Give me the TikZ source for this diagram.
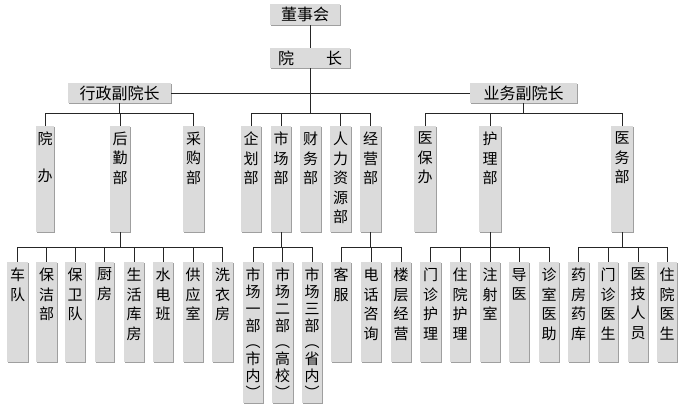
\documentclass[tikz,border=0pt]{standalone}
\usepackage{fontspec}
\setmainfont{Noto Sans CJK SC}
\usetikzlibrary{shadows}
\tikzset{
  bx/.style={fill=gray!28, draw=none, inner sep=0pt, drop shadow={shadow xshift=1.2pt, shadow yshift=-1.2pt, fill=gray!75, opacity=1}},
  tx/.style={inner sep=0pt, font=\fontsize{15}{19.5}\selectfont, align=center, text width=16pt},
  ht/.style={inner sep=0pt, font=\fontsize{16}{18}\selectfont},
  ln/.style={line width=0.9pt, black!85}
}
\newcommand{\bxv}[6]{%
  \node[bx, minimum width={#4-#2}, minimum height={#5-#3}] (#1) at ({(#2+#4)/2},{(#3+#5)/2}) {};
  \node[tx, anchor=north] (#1t) at ([yshift=-6pt]#1.north) {#6};}
\newcommand{\bxh}[6]{%
  \node[bx, minimum width={#4-#2}, minimum height={#5-#3}] (#1) at ({(#2+#4)/2},{(#3+#5)/2}) {};
  \node[ht] (#1t) at (#1) {#6};}
\newcommand{\orgbar}[3]{% from node #1 to node #2 at y #3
  \draw[ln] (#1.north) -- (#1.north |- 0,#3) -- (#2.north |- 0,#3) -- (#2.north);}
\begin{document}
\begin{tikzpicture}[x=1pt,y=-1pt]
\useasboundingbox[fill=white] (0,0) rectangle (683,412);
% top
\bxh{dsh}{270}{4}{340}{25}{董事会}
\bxh{yz}{270}{48}{350}{68}{院\hspace{2em}长}
\bxh{xz}{68}{83}{171}{103}{行政副院长}
\bxh{yw}{470}{83}{577}{103}{业务副院长}
% level 2
\bxv{yb}{36}{126}{54}{232}{院\\[17pt]办}
\bxv{hq}{110}{126}{130}{232}{后\\勤\\部}
\bxv{cg}{183}{126}{204}{232}{采\\购\\部}
\bxv{qh}{241}{126}{261}{232}{企\\划\\部}
\bxv{sc}{271}{126}{291}{232}{市\\场\\部}
\bxv{cw}{300}{126}{321}{232}{财\\务\\部}
\bxv{rl}{330}{126}{351}{232}{人\\力\\资\\源\\部}
\bxv{jy}{360}{126}{381}{232}{经\\营\\部}
\bxv{ybb}{414}{126}{436}{232}{医\\保\\办}
\bxv{hl}{479}{126}{501}{232}{护\\理\\部}
\bxv{yw2}{611}{126}{633}{232}{医\\务\\部}
% level 3
\bxv{a1}{7}{262}{28}{362}{车\\队}
\bxv{a2}{36}{262}{57}{362}{保\\洁\\部}
\bxv{a3}{65}{262}{85}{362}{保\\卫\\队}
\bxv{a4}{95}{262}{114}{362}{厨\\房}
\bxv{a5}{124}{262}{144}{362}{生\\活\\库\\房}
\bxv{a6}{153}{262}{173}{362}{水\\电\\班}
\bxv{a7}{183}{262}{203}{362}{供\\应\\室}
\bxv{a8}{212}{262}{233}{362}{洗\\衣\\房}
\tikzset{tx/.append style={font=\fontsize{15}{16.8}\selectfont}}
\bxv{b1}{243}{262}{263}{403}{市\\场\\一\\部\\︵\\市\\内\\︶}
\bxv{b2}{272}{262}{293}{403}{市\\场\\二\\部\\︵\\高\\校\\︶}
\bxv{b3}{302}{262}{322}{403}{市\\场\\三\\部\\︵\\省\\内\\︶}
\tikzset{tx/.append style={font=\fontsize{15}{19.5}\selectfont}}
\bxv{c1}{331}{262}{351}{362}{客\\服}
\bxv{c2}{361}{262}{381}{362}{电\\话\\咨\\询}
\bxv{c3}{391}{262}{411}{362}{楼\\层\\经\\营}
\bxv{d1}{420}{262}{441}{362}{门\\诊\\护\\理}
\bxv{d2}{450}{262}{470}{362}{住\\院\\护\\理}
\bxv{d3}{480}{262}{500}{362}{注\\射\\室}
\bxv{d4}{509}{262}{529}{362}{导\\医}
\bxv{d5}{539}{262}{559}{362}{诊\\室\\医\\助}
\bxv{e1}{568}{262}{589}{362}{药\\房\\药\\库}
\bxv{e2}{598}{262}{618}{362}{门\\诊\\医\\生}
\bxv{e3}{628}{262}{648}{362}{医\\技\\人\\员}
\bxv{e4}{657}{262}{677}{362}{住\\院\\医\\生}
% connectors
\draw[ln] (dsh.south -| 310,0) -- (yz.north -| 310,0);
\draw[ln] (yz.south -| 310,0) -- (310,113);
\draw[ln] (xz.east) -- (yw.west);
\orgbar{qh}{jy}{113}
\foreach \n in {sc,rl} \draw[ln] (\n.north) -- (\n.north |- 0,113);
\draw[ln] (xz.south) -- (xz.south |- 0,113);
\orgbar{yb}{cg}{113}
\draw[ln] (hq.north) -- (hq.north |- 0,113);
\draw[ln] (yw.south) -- (yw.south |- 0,113);
\orgbar{ybb}{yw2}{113}
\draw[ln] (hl.north) -- (hl.north |- 0,113);
% bottom
\draw[ln] (hq.south) -- (hq.south |- 0,247);
\orgbar{a1}{a8}{247}
\foreach \n in {a2,a3,a4,a5,a6,a7} \draw[ln] (\n.north) -- (\n.north |- 0,247);
\draw[ln] (sc.south) -- (sc.south |- 0,247);
\orgbar{b1}{b3}{247}
\draw[ln] (b2.north) -- (b2.north |- 0,247);
\draw[ln] (jy.south) -- (jy.south |- 0,247);
\orgbar{c1}{c3}{247}
\draw[ln] (c2.north) -- (c2.north |- 0,247);
\draw[ln] (hl.south) -- (hl.south |- 0,247);
\orgbar{d1}{d5}{247}
\foreach \n in {d2,d3,d4} \draw[ln] (\n.north) -- (\n.north |- 0,247);
\draw[ln] (yw2.south) -- (yw2.south |- 0,247);
\orgbar{e1}{e4}{247}
\foreach \n in {e2,e3} \draw[ln] (\n.north) -- (\n.north |- 0,247);
\end{tikzpicture}
\end{document}
